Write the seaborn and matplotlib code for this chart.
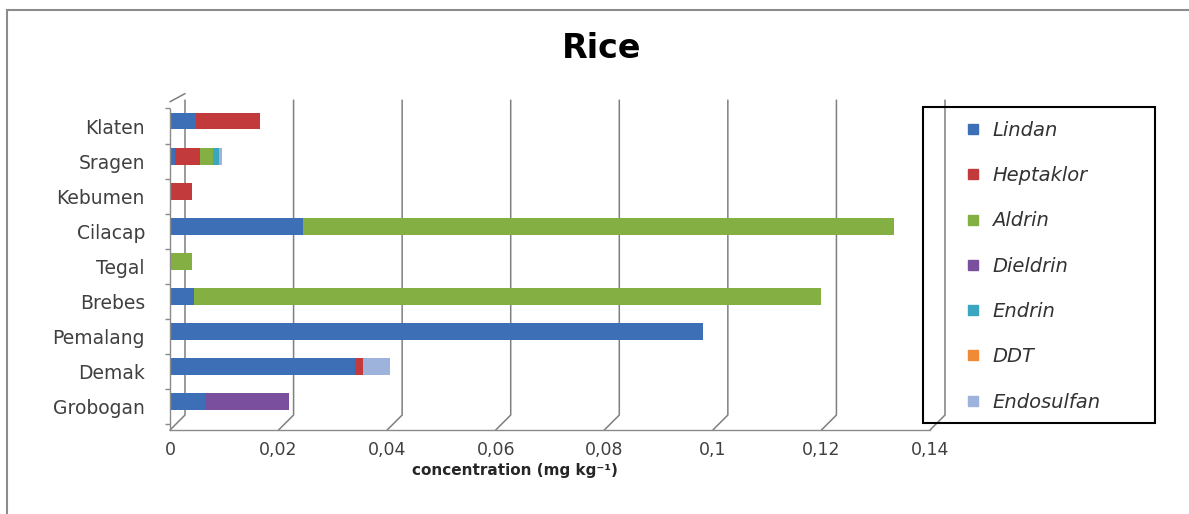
import numpy as np
import pandas as pd
import matplotlib
matplotlib.use("Agg")
import matplotlib.pyplot as plt
import seaborn as sns
from matplotlib.lines import Line2D
from matplotlib.patches import Rectangle
from matplotlib.transforms import ScaledTranslation
from matplotlib.ticker import FuncFormatter, FixedLocator

# ---- data ----
locations = ["Klaten", "Sragen", "Kebumen", "Cilacap", "Tegal",
             "Brebes", "Pemalang", "Demak", "Grobogan"]
lindan     = [0.0047, 0.0010, 0.0000, 0.0245, 0.0000, 0.0045, 0.0982, 0.0340, 0.0065]
heptaklor  = [0.0118, 0.0045, 0.0040, 0.0000, 0.0000, 0.0000, 0.0000, 0.0015, 0.0000]
aldrin     = [0.0000, 0.0025, 0.0000, 0.1088, 0.0040, 0.1155, 0.0000, 0.0000, 0.0000]
dieldrin   = [0.0000, 0.0000, 0.0000, 0.0000, 0.0000, 0.0000, 0.0000, 0.0000, 0.0155]
endrin     = [0.0000, 0.0010, 0.0000, 0.0000, 0.0000, 0.0000, 0.0000, 0.0000, 0.0000]
ddt        = [0.0000, 0.0000, 0.0000, 0.0000, 0.0000, 0.0000, 0.0000, 0.0000, 0.0000]
endosulfan = [0.0000, 0.0005, 0.0000, 0.0000, 0.0000, 0.0000, 0.0000, 0.0050, 0.0000]

series_names = ["Lindan", "Heptaklor", "Aldrin", "Dieldrin", "Endrin", "DDT", "Endosulfan"]
series_vals = [lindan, heptaklor, aldrin, dieldrin, endrin, ddt, endosulfan]
colors = ["#3d6fb6", "#c23a3c", "#84b043", "#7a4f9e", "#3aa6c0", "#f08a35", "#9db3dc"]
xticks = [0, 0.02, 0.04, 0.06, 0.08, 0.10, 0.12, 0.14]

sns.set_style("white")
plt.rcParams["font.family"] = ["DejaVu Sans"]

W, H, DPI = 1189, 514, 100
fig = plt.figure(figsize=(W / DPI, H / DPI), dpi=DPI)
ax = fig.add_axes([170 / W, 1 - 430 / H, 760 / W, 325 / H])

# stacked bars: draw cumulative totals from last series to first
cum = np.cumsum(np.array(series_vals), axis=0)
for i in range(len(series_names) - 1, -1, -1):
    df = pd.DataFrame({"location": locations, "value": cum[i]})
    sns.barplot(data=df, x="value", y="location", order=locations, orient="h",
                color=colors[i], saturation=1, width=0.48, linewidth=0,
                ax=ax, zorder=2)

ax.set_xlim(0, 0.14)
ax.set_ylim(8.80, -0.456)
ax.set_xlabel("")
ax.set_ylabel("")

# 3D-like back-wall gridlines (offset to the right)
dx = (ax.get_xlim()[1] - ax.get_xlim()[0]) * 15 / 760
for t in xticks:
    ax.plot([t, t + dx, t + dx], [0, 0.046, 1.015], transform=ax.get_xaxis_transform(),
            color="#7f7f7f", lw=1.1, clip_on=False, zorder=0.5)
# top-left corner edge of the 3D wall
ax.plot([0, dx], [1.01, 1.035], transform=ax.get_xaxis_transform(),
        color="#7f7f7f", lw=1.1, clip_on=False, zorder=0.5)

for s in ["top", "right"]:
    ax.spines[s].set_visible(False)
for s in ["left", "bottom"]:
    ax.spines[s].set_color("#8a8a8a")
    ax.spines[s].set_linewidth(1.0)
ax.spines["left"].set_bounds(8.80, -0.456 + 0.1)

ax.xaxis.set_major_locator(FixedLocator(xticks))
ax.xaxis.set_major_formatter(FuncFormatter(
    lambda v, p: (f"{v:.2f}".rstrip("0").rstrip(".")).replace(".", ",")))
ax.tick_params(axis="x", direction="out", length=3.6, width=1, color="#8a8a8a",
               labelsize=12.5, labelcolor="#404040", pad=4)
ax.tick_params(axis="y", which="major", length=0, labelsize=13.5,
               labelcolor="#404040", pad=18)
ax.yaxis.set_minor_locator(FixedLocator(np.arange(len(locations) + 1) - 0.5 + 5 / 35.1))
ax.tick_params(axis="y", which="minor", direction="out", length=3.6, width=1,
               color="#8a8a8a", left=True)
for lab in ax.get_yticklabels():
    lab.set_transform(lab.get_transform() + ScaledTranslation(0, -5 / DPI, fig.dpi_scale_trans))

# title and axis label
fig.text(602 / W, 1 - 48 / H, "Rice", ha="center", va="center",
         fontsize=24, fontweight="bold", color="black")
fig.text(515 / W, 1 - 470 / H, "concentration (mg kg\u207b\u00b9)", ha="center", va="center",
         fontsize=11, fontweight="bold", color="#262626")

# legend
handles = [Line2D([], [], marker="s", ls="", color=c, markersize=7) for c in colors]
fig.legend(handles, series_names, loc="upper left",
           bbox_to_anchor=(965 / W, 1 - 121 / H), frameon=False,
           prop={"style": "italic", "size": 14}, labelcolor="#333333",
           borderpad=0, borderaxespad=0, handlelength=0.8, handletextpad=0.59,
           labelspacing=1.35)
fig.add_artist(Rectangle((923 / W, 1 - 423 / H), (1155 - 923) / W, (423 - 107) / H,
                         fill=False, edgecolor="black", lw=1.5, transform=fig.transFigure))

# outer chart border
fig.add_artist(Rectangle((7 / W, -0.05), 1.2, 1 - 10 / H + 0.05, fill=False,
                         edgecolor="#8c8c8c", lw=1.5, transform=fig.transFigure,
                         clip_on=False))

fig.savefig("out.png", dpi=DPI)
